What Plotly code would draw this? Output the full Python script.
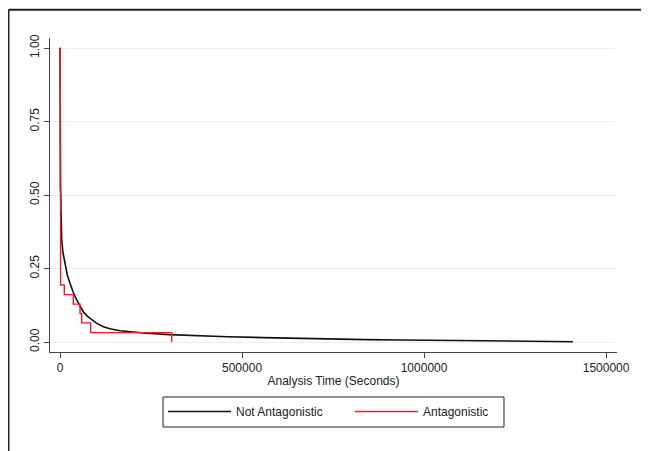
import plotly.graph_objects as go

# Kaplan-Meier survival estimates
not_antag_time = [0, 150, 400, 800, 1500, 2700, 4700, 8000, 13700, 20000, 27500, 36000,
                  45900, 55000, 64000, 75000, 87100, 100000, 119000, 140000, 165000,
                  200000, 238000, 300000, 375000, 460000, 558000, 650000, 742000,
                  840000, 934000, 1050000, 1209000, 1320000, 1409000]
not_antag_surv = [1.0, 0.85, 0.72, 0.62, 0.53, 0.449, 0.347, 0.305, 0.262, 0.228, 0.200, 0.170,
                  0.143, 0.122, 0.103, 0.088, 0.075, 0.064, 0.052, 0.044, 0.038,
                  0.033, 0.030, 0.025, 0.021, 0.018, 0.015, 0.012, 0.010,
                  0.008, 0.007, 0.005, 0.003, 0.002, 0.001]

antag_time = [0, 600, 1500, 11800, 36500, 55000, 59600, 84300, 306800]
antag_surv = [1.0, 0.516, 0.194, 0.161, 0.129, 0.097, 0.065, 0.032, 0.0]

y_ticks = [0, 0.25, 0.5, 0.75, 1.0]
x_ticks = [0, 500000, 1000000, 1500000]

FONT = "Liberation Sans, Arial, Helvetica, sans-serif"

fig = go.Figure()
fig.add_trace(go.Scatter(x=not_antag_time, y=not_antag_surv, mode="lines",
                         name="Not Antagonistic", legend="legend",
                         line=dict(color="#111111", width=1.6)))
fig.add_trace(go.Scatter(x=antag_time, y=antag_surv, mode="lines",
                         name="Antagonistic", line_shape="hv", legend="legend2",
                         line=dict(color="#ee1c25", width=1.4)))

legend_common = dict(orientation="h", yanchor="top", y=-0.1433, xanchor="left",
                     bgcolor="rgba(0,0,0,0)", borderwidth=0,
                     font=dict(size=12, family=FONT, color="#222222"), itemwidth=63)

fig.update_layout(
    width=641, height=443,
    margin=dict(l=42, r=32, t=30, b=99),
    paper_bgcolor="white", plot_bgcolor="white",
    font=dict(family=FONT, size=12, color="#222222"),
    showlegend=True,
    legend=dict(legend_common, x=0.1993),
    legend2=dict(legend_common, x=0.5291),
    xaxis=dict(range=[-27500, 1530000], tickvals=x_ticks, tickformat="d",
               showgrid=False, zeroline=False, showline=True, linecolor="#444444",
               linewidth=1, ticks="outside", ticklen=5, tickcolor="#444444",
               title=dict(text="Analysis Time (Seconds)", standoff=2, font=dict(size=12))),
    yaxis=dict(range=[-0.034, 1.034], tickvals=y_ticks, tickformat=".2f", tickangle=-90,
               showgrid=True, gridcolor="#e8f0f2", gridwidth=1, zeroline=False,
               showline=True, linecolor="#444444", linewidth=1,
               ticks="outside", ticklen=5, tickcolor="#444444"),
    shapes=[
        # outer frame (top and left edges visible)
        dict(type="line", xref="paper", yref="paper", x0=-0.0732, x1=1.07, y0=1.0898, y1=1.0898,
             line=dict(color="#222222", width=2)),
        dict(type="line", xref="paper", yref="paper", x0=-0.0732, x1=-0.0732, y0=1.0898, y1=-0.33,
             line=dict(color="#222222", width=2)),
        # legend box
        dict(type="rect", xref="paper", yref="paper", x0=0.1993, x1=0.8007, y0=-0.1433, y1=-0.2389,
             line=dict(color="#222222", width=1)),
    ],
)

fig.write_html("out.html")
